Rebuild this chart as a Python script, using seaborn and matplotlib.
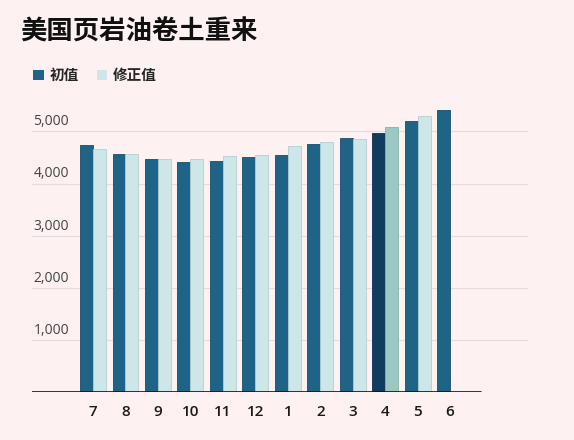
import pandas as pd
import numpy as np
import seaborn as sns
import matplotlib.pyplot as plt
from matplotlib.patches import Patch

# 数据
months = ['7', '8', '9', '10', '11', '12', '1', '2', '3', '4', '5', '6']
initial = [4740, 4570, 4470, 4420, 4430, 4510, 4550, 4760, 4870, 4970, 5200, 5410]
revised = [4660, 4570, 4470, 4470, 4530, 4550, 4720, 4800, 4850, 5090, 5300, np.nan]
series_names = ['初值', '修正值']
yticks = [1000, 2000, 3000, 4000, 5000]

df = pd.DataFrame({
    'month': months * 2,
    'series': [series_names[0]] * len(months) + [series_names[1]] * len(months),
    'value': initial + revised,
})

bg = '#fdf1f1'
dark = '#1f6387'
light = '#cde6e7'
dark_hl = '#0e3d5d'
light_hl = '#9bc9c1'

sns.set_theme(style='white')
plt.rcParams['font.family'] = ['Noto Sans CJK SC', 'DejaVu Sans']

fig = plt.figure(figsize=(5.74, 4.40), dpi=100, facecolor=bg)
ax = fig.add_axes([32 / 574, 48 / 440, 496 / 574, 297 / 440])
ax.set_facecolor(bg)

sns.barplot(data=df, x='month', y='value', hue='series', order=months,
            hue_order=series_names, palette=[dark, light], width=0.8,
            saturation=1, legend=False, ax=ax, zorder=3)

# 边框颜色 + 4月高亮
for bar in ax.containers[0]:
    bar.set_edgecolor('#174d6b')
    bar.set_linewidth(0.6)
for bar in ax.containers[1]:
    bar.set_edgecolor('#b3cfd0')
    bar.set_linewidth(0.6)
idx4 = months.index('4')
ax.containers[0][idx4].set_facecolor(dark_hl)
ax.containers[0][idx4].set_edgecolor('#0a2f48')
ax.containers[1][idx4].set_facecolor(light_hl)
ax.containers[1][idx4].set_edgecolor('#86b3ac')

ax.set_xlim(-1.88, 13.4)
ax.set_ylim(0, 5700)
ax.set_yticks(yticks)
ax.set_yticklabels([])
ax.tick_params(axis='y', length=0)
ax.yaxis.grid(True, color='#e2dcdc', linewidth=0.8, zorder=0)
ax.set_axisbelow(True)
for t in yticks:
    ax.text(0.003, t + 40, f'{t:,}', transform=ax.get_yaxis_transform(),
            ha='left', va='bottom', fontsize=10, color='#444444',
            family=['Open Sans', 'DejaVu Sans'])

ax.tick_params(axis='x', length=0, pad=9)
for lbl in ax.get_xticklabels():
    lbl.set_fontsize(11)
    lbl.set_color('#1a1a1a')
    lbl.set_fontweight('semibold')
    lbl.set_family(['Open Sans', 'DejaVu Sans'])
ax.set_xlabel('')
ax.set_ylabel('')
for s in ax.spines.values():
    s.set_visible(False)
ax.axhline(0, xmin=0, xmax=(481 - 32) / 496, color='#111111', linewidth=1.2, zorder=4)

fig.text(20 / 574, 1 - 32 / 440, '美国页岩油卷土重来', fontsize=19, fontweight='bold',
         color='#111111', ha='left', va='center')

handles = [Patch(facecolor=dark, edgecolor='none'), Patch(facecolor=light, edgecolor='none')]
fig.legend(handles, series_names, loc='center left', bbox_to_anchor=(33 / 574, 1 - 75 / 440),
           ncol=2, frameon=False, handlelength=0.75, handleheight=0.75,
           handletextpad=0.4, columnspacing=1.2, borderpad=0, borderaxespad=0,
           prop={'family': ['Noto Sans CJK SC'], 'weight': 'bold', 'size': 10.5})

fig.savefig('out.png', dpi=100, facecolor=bg)
